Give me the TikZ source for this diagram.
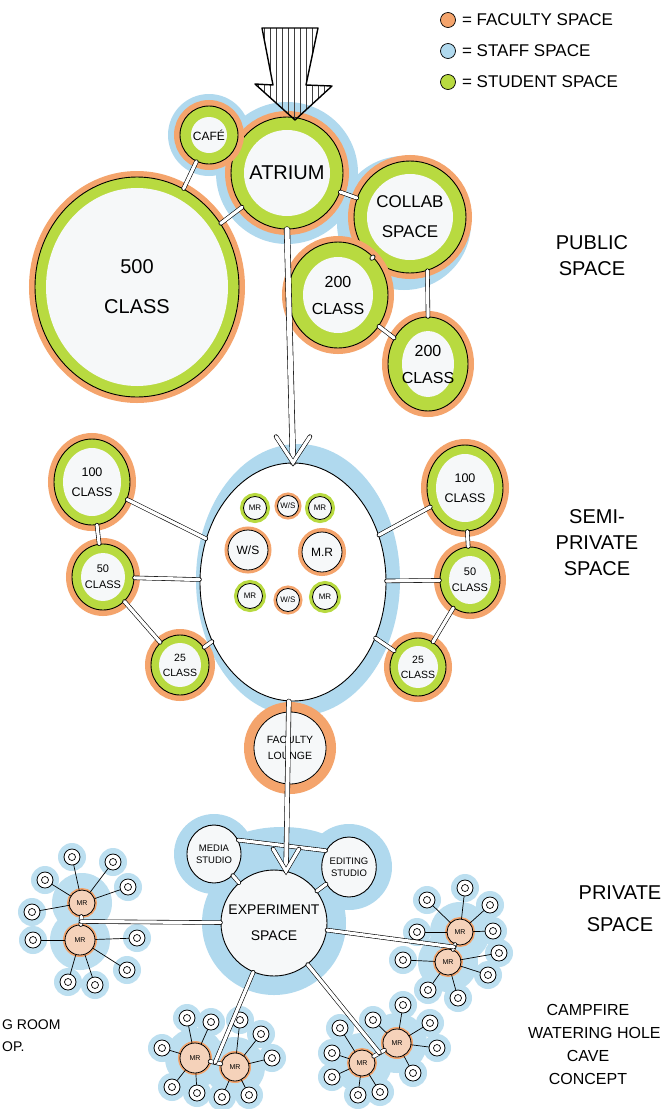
\documentclass[tikz,border=0pt]{standalone}
\usepackage{fontspec}
\setmainfont{Liberation Sans}
\usetikzlibrary{calc,positioning,shapes.geometric,backgrounds}

\definecolor{faccol}{RGB}{244,164,108}
\definecolor{stfcol}{RGB}{176,217,238}
\definecolor{stucol}{RGB}{184,218,64}
\definecolor{paper}{RGB}{246,248,249}

\tikzset{
  band/.store in=\bandw, band=13pt,
  % faculty ring outside, student band inside, pale core
  bubble/.style={ellipse, draw, line width=0.9pt, fill=stucol, inner sep=0pt, align=center,
    preaction={draw=faccol, line width=12pt},
    path picture={\fill[paper] let \p1=($(path picture bounding box.north east)-(path picture bounding box.center)$)
      in (path picture bounding box.center) ellipse ({\x1-\bandw} and {\y1-\bandw});}},
  room/.style 2 args={circle, draw, line width=0.8pt, fill=paper, inner sep=0pt, align=center,
    preaction={draw=#1, line width=#2}},
  studio/.style={ellipse, draw, line width=0.9pt, fill=paper, inner sep=0pt, align=center},
  hub/.style={circle, draw, line width=0.8pt, fill=paper!55!faccol, inner sep=0pt, minimum size=26,
    preaction={draw=faccol, line width=4pt}, font=\fontsize{7}{8}\selectfont},
  seat/.style={circle, draw, line width=0.8pt, fill=white, inner sep=0pt, minimum size=16,
    path picture={\draw[line width=0.7pt] (path picture bounding box.center) circle (3.5pt);}},
  link/.style={draw, line width=0.6pt, double=white, double distance=3.2pt},
  spoke/.style={draw, line width=0.7pt},
  keydot/.style={circle, draw, line width=0.7pt, minimum size=15, inner sep=0pt},
  key/.style={font=\fontsize{17}{20}\selectfont, inner sep=0pt},
  tag/.style={font=\fontsize{20}{26}\selectfont, align=center},
  note/.style={font=\fontsize{16}{20}\selectfont, inner sep=0pt}
}

\begin{document}
\begin{tikzpicture}[x=1pt, y=-1pt, line cap=round]
    \useasboundingbox (0,0) rectangle (667,1109);

    % Legend
    \node[keydot, fill=faccol] (keyfac) at (448,20) {};
    \node[keydot, fill=stfcol] (keystf) at (448,51) {};
    \node[keydot, fill=stucol] (keystu) at (448,82) {};
    \node[key, right=6pt of keyfac] (keyfactxt) {= FACULTY SPACE};
    \node[key, right=6pt of keystf] (keystftxt) {= STAFF SPACE};
    \node[key, right=6pt of keystu] (keystutxt) {= STUDENT SPACE};

    % Public space
    \node[bubble, minimum size=112, font=\fontsize{20}{24}\selectfont] (atrium) at (287,173) {ATRIUM};
    \node[bubble, band=11pt, minimum size=58, font=\fontsize{12}{14}\selectfont] (cafe) at (209,135) {CAFÉ};
    \node[bubble, band=11pt, minimum width=204, minimum height=220, font=\fontsize{20}{40}\selectfont] (cls500) at (137,287) {500\\CLASS};
    \node[bubble, minimum size=112, font=\fontsize{17}{30}\selectfont] (collab) at (410,217) {COLLAB\\SPACE};
    \node[bubble, band=15pt, minimum width=100, minimum height=106, font=\fontsize{16}{27}\selectfont] (cls200a) at (338,295) {200\\CLASS};
    \node[bubble, band=14pt, minimum width=80, minimum height=94, font=\fontsize{16}{27}\selectfont] (cls200b) at (428,364) {200\\CLASS};

    % Semi-private space
    \node[studio, fill=white, minimum width=186, minimum height=238] (semi) at (293,582) {};
    \node[room={stucol}{7pt}, minimum size=23, font=\fontsize{8}{9}\selectfont] (mr1) at (255,508) {MR};
    \node[room={faccol}{6pt}, minimum size=21, font=\fontsize{8}{9}\selectfont] (ws1) at (288,506) {W/S};
    \node[room={stucol}{7pt}, minimum size=23, font=\fontsize{8}{9}\selectfont] (mr2) at (320,508) {MR};
    \node[room={faccol}{7pt}, minimum size=40, font=\fontsize{12}{14}\selectfont] (ws2) at (248,550) {W/S};
    \node[room={faccol}{8pt}, minimum size=40, font=\fontsize{12}{14}\selectfont] (mr3) at (322,552) {M.R};
    \node[room={stucol}{7pt}, minimum size=25, font=\fontsize{8}{9}\selectfont] (mr4) at (250,596) {MR};
    \node[room={faccol}{6pt}, minimum size=23, font=\fontsize{8}{9}\selectfont] (ws3) at (288,600) {W/S};
    \node[room={stucol}{7pt}, minimum size=25, font=\fontsize{8}{9}\selectfont] (mr5) at (325,597) {MR};

    \node[bubble, band=9pt, minimum width=76, minimum height=86, font=\fontsize{12.5}{20}\selectfont] (cls100l) at (92,482) {100\\CLASS};
    \node[bubble, band=9pt, minimum width=62, minimum height=66, font=\fontsize{11}{16}\selectfont] (cls50l) at (103,577) {50\\CLASS};
    \node[bubble, band=8pt, minimum width=58, minimum height=60, font=\fontsize{10.5}{15}\selectfont] (cls25l) at (180,665) {25\\CLASS};
    \node[bubble, band=9pt, minimum width=76, minimum height=86, font=\fontsize{12.5}{20}\selectfont] (cls100r) at (465,488) {100\\CLASS};
    \node[bubble, band=9pt, minimum width=60, minimum height=66, font=\fontsize{11}{16}\selectfont] (cls50r) at (470,580) {50\\CLASS};
    \node[bubble, band=8pt, minimum width=56, minimum height=58, font=\fontsize{10.5}{15}\selectfont] (cls25r) at (418,667) {25\\CLASS};

    % Private space
    \node[room={faccol}{20pt}, minimum size=72, font=\fontsize{10.5}{16}\selectfont] (lounge) at (290,748) {FACULTY\\LOUNGE};
    \node[studio, circle, minimum size=106, font=\fontsize{14}{26}\selectfont] (exp) at (274,923) {EXPERIMENT\\SPACE};
    \node[studio, minimum width=54, minimum height=58, font=\fontsize{9.5}{12}\selectfont] (media) at (214,854) {MEDIA\\STUDIO};
    \node[studio, minimum width=54, minimum height=60, font=\fontsize{9.5}{12}\selectfont] (editing) at (349,867) {EDITING\\STUDIO};

    % meeting rooms and their seats
    \node[hub] (mrl1) at (82,903) {MR};
    \node[hub, minimum size=30] (mrl2) at (80,940) {MR};
    \node[hub] (mrr1) at (460,932) {MR};
    \node[hub] (mrr2) at (448,962) {MR};
    \node[hub, minimum size=30] (mrb1) at (195,1058) {MR};
    \node[hub, minimum size=28] (mrb2) at (235,1067) {MR};
    \node[hub] (mrc1) at (362,1063) {MR};
    \node[hub, minimum size=28] (mrc2) at (397,1043) {MR};
    \foreach \h/\seats in {
        mrl1/{(72,857),(113,862),(45,880),(128,887),(32,912)},
        mrl2/{(33,940),(137,938),(68,982),(95,985),(127,970)},
        mrr1/{(465,888),(427,900),(490,905),(417,932),(493,931)},
        mrr2/{(403,960),(499,953),(488,975),(428,990),(458,998)},
        mrb1/{(187,1018),(211,1022),(162,1048),(172,1087),(197,1093)},
        mrb2/{(240,1020),(261,1034),(272,1058),(222,1097),(249,1095)},
        mrc1/{(340,1028),(332,1053),(332,1077),(358,1095),(380,1092)},
        mrc2/{(373,1020),(403,1005),(430,1023),(437,1048),(413,1073)}} {
        \foreach \p [count=\i] in \seats {
            \node[seat] (\h-\i) at \p {};
            \draw[spoke] (\h) -- (\h-\i);
        }
    }

    % Connectors
    \foreach \a/\b in {cafe/cls500, atrium/cls500, atrium/collab, collab/cls200a, cls200a/cls200b,
        cls100l/semi, cls50l/semi, cls25l/semi, cls100l/cls50l, cls50l/cls25l,
        cls100r/semi, cls50r/semi, cls25r/semi, cls100r/cls50r, cls50r/cls25r,
        media/exp, editing/exp, mrl1/mrl2, mrr1/mrr2, mrb1/mrb2, mrc1/mrc2}
        \draw[link] (\a) -- (\b);
    \draw[link] (collab.-72) -- (cls200b.north);
    \draw[link] (media.30) -- (editing.145);

    \coordinate (ljoin) at ($(mrl1)!0.5!(mrl2)$);
    \coordinate (rjoin) at ($(mrr1)!0.5!(mrr2)$);
    \coordinate (bjoin) at ($(mrb1)!0.5!(mrb2)$);
    \coordinate (cjoin) at ($(mrc1)!0.5!(mrc2)$);
    \foreach \j in {ljoin, rjoin, bjoin, cjoin}
        \draw[link] (exp) -- (\j);

    % main spine with open heads
    \draw[link, double distance=5pt] (atrium.south) -- (semi.north);
    \draw[link] ($(semi.north)+(-17,-26)$) -- (semi.north) -- ($(semi.north)+(17,-26)$);
    \draw[link, double distance=4pt] (semi.-92) -- (exp.77);
    \draw[link] ($(exp.77)+(-13,-22)$) -- (exp.77) -- ($(exp.77)+(13,-22)$);

    % Entry arrow
    \begin{scope}
        \clip (262,28) -- (318,28) -- (306,85) -- (332,86) -- (295,120) -- (255,84) -- (273,85) -- cycle;
        \foreach \x in {258,264,...,334}
            \draw[line width=0.9pt, black!75] (\x,20) -- (\x,125);
    \end{scope}
    \draw[line width=1.4pt, line join=round] (262,28) -- (318,28) -- (306,85) -- (332,86) -- (295,120) -- (255,84) -- (273,85) -- cycle;

    % Zone labels
    \node[tag] (pubtag) at (592,256) {PUBLIC\\SPACE};
    \node[tag] (semitag) at (597,543) {SEMI-\\PRIVATE\\SPACE};
    \node[tag, font=\fontsize{20}{32}\selectfont] (privtag) at (620,909) {PRIVATE\\SPACE};
    \node[note] (camp1) at (588,1010) {CAMPFIRE};
    \node[note, anchor=west] (camp2) at (528,1033) {WATERING HOLE};
    \node[note] (camp3) at (588,1056) {CAVE};
    \node[note] (camp4) at (588,1079) {CONCEPT};
    \node[note, anchor=west, font=\fontsize{14}{18}\selectfont] (roomtag) at (2,1025) {G ROOM};
    \node[note, anchor=west, font=\fontsize{14}{18}\selectfont] (optag) at (2,1047) {OP.};

    % Staff halos
    \begin{scope}[on background layer]
        \fill[white] (0,0) rectangle (667,1109);
        \fill[stfcol] (atrium) circle (71pt);
        \fill[stfcol] (cafe) circle (41pt);
        \fill[stfcol] ($(collab)+(-6,6)$) circle (67pt);
        \fill[stfcol] (298,580) ellipse (102pt and 136pt);
        \fill[stfcol] (exp) circle (72pt);
        \fill[stfcol] (media) circle (40pt);
        \fill[stfcol] (editing) circle (43pt);
        \fill[stfcol] (282,852) ellipse (60pt and 25pt);
        \foreach \h in {mrl1, mrl2, mrr1, mrr2, mrb1, mrb2, mrc1, mrc2} {
            \fill[stfcol!85!white] (\h) circle (30pt);
            \foreach \i in {1,...,5}
                \fill[stfcol!85!white] (\h-\i) circle (14pt);
        }
    \end{scope}
\end{tikzpicture}
\end{document}
